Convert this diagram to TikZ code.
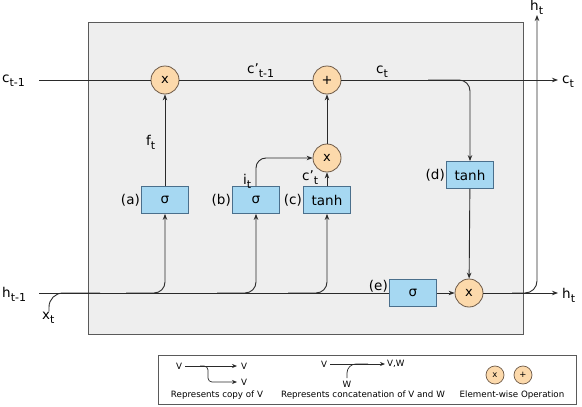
\documentclass[tikz,border=0pt]{standalone}
\usepackage{fontspec}
\setmainfont{DejaVu Sans}
\usetikzlibrary{arrows.meta}
\definecolor{cellbg}{HTML}{EEEEEE}
\definecolor{cellbd}{HTML}{5A5A5A}
\definecolor{actfill}{HTML}{A6D8F2}
\definecolor{actbd}{HTML}{4A6F8C}
\definecolor{opfill}{HTML}{FCD9AB}
\definecolor{opbd}{HTML}{6E5A48}
\definecolor{ln}{HTML}{2A2A2A}
\newcommand{\lsub}[1]{\raisebox{-0.55ex}{\fontsize{11}{11}\selectfont #1}}
\newcommand{\apos}{\symbol{"27}}
\tikzset{
  lbl/.style={font=\fontsize{13.5}{14}\selectfont, inner sep=0pt},
  lgd/.style={font=\fontsize{8.7}{9}\selectfont, inner sep=0pt},
  act/.style={draw=actbd, fill=actfill, line width=0.8pt, minimum width=47pt, minimum height=27pt, inner sep=0pt, font=\fontsize{13.5}{14}\selectfont},
  gate/.style={circle, draw=opbd, fill=opfill, line width=0.8pt, minimum size=28pt, inner sep=0pt, font=\fontsize{13}{14}\selectfont},
  sgate/.style={circle, draw=opbd, fill=opfill, line width=0.7pt, minimum size=18pt, inner sep=0pt, font=\fontsize{8.5}{9}\selectfont},
  wire/.style={draw=ln, line width=0.9pt},
  arr/.style={wire, -{Stealth[length=6pt,width=4.5pt]}},
  sarr/.style={draw=ln, line width=0.7pt, -{Stealth[length=5pt,width=4pt]}},
}
\begin{document}
\begin{tikzpicture}[x=1pt,y=-1pt]
\useasboundingbox (0,0) rectangle (582,407);
% cell background
\node[fill=cellbg, draw=cellbd, line width=1pt, minimum width=435pt, minimum height=312pt, inner sep=0pt] (cell) at (305.5,178) {};

% operators
\node[gate] (fx) at (165,80) {x};
\node[gate] (add) at (327,80) {+};
\node[gate] (ix) at (327,158) {x};
\node[gate] (ox) at (469,293) {x};
% activations
\node[act] (a) at (165,200) {σ};
\node[act] (b) at (256,200) {σ};
\node[act] (c) at (327,200) {tanh};
\node[act] (d) at (470,175) {tanh};
\node[act] (e) at (413,293) {σ};

% coordinates
\coordinate (cin) at (39,80);
\coordinate (cout) at (558,80);
\coordinate (hin) at (39,293);
\coordinate (hout) at (558,293);
\coordinate (htop) at (537,15);
\coordinate (xin) at (49,311);
\coordinate (xj) at (100,293);
\coordinate (cbr) at (428,80);
\coordinate (hbr) at (512,293);
\coordinate (bra) at (126,293);
\coordinate (brb) at (217,293);
\coordinate (brc) at (288,293);

% cell state line
\draw[wire] (cin) -- (fx);
\draw[wire] (fx) -- (add);
\draw[arr] (add) -- (cout);
\draw[arr, rounded corners=11pt] (cbr) -| (d.north);

% hidden line
\draw[wire] (hin) -- (e);
\draw[arr] (e) -- (ox);
\draw[arr] (ox) -- (hout);
\draw[arr, rounded corners=12pt] (hbr) -| (htop);
\draw[wire, rounded corners=14pt] (xin) |- (xj);

% branches to gates
\draw[arr, rounded corners=11pt] (bra) -| (a.south);
\draw[arr, rounded corners=11pt] (brb) -| (b.south);
\draw[arr, rounded corners=11pt] (brc) -| (c.south);

% gate outputs
\draw[arr] (a) -- (fx);
\draw[arr, rounded corners=10pt] (b.north) |- (ix.west);
\draw[arr] (c) -- (ix);
\draw[arr] (ix) -- (add);
\draw[arr] (d) -- (ox);

% labels
\node[lbl, anchor=base west] (lcin) at (2,82) {c\lsub{t-1}};
\node[lbl, anchor=base west] (lhin) at (2,297) {h\lsub{t-1}};
\node[lbl, anchor=base west] (lxt) at (42,319) {x\lsub{t}};
\node[lbl, anchor=base west] (lcout) at (562,83) {c\lsub{t}};
\node[lbl, anchor=base west] (lhout) at (562,298) {h\lsub{t}};
\node[lbl, anchor=base west] (lhtop) at (530,10) {h\lsub{t}};
\node[lbl, anchor=base west] (lft) at (146,145) {f\lsub{t}};
\node[lbl, anchor=base west] (lcp) at (247,73) {c\apos\lsub{t-1}};
\node[lbl, anchor=base west] (lct) at (376,73) {c\lsub{t}};
\node[lbl, anchor=base west] (lit) at (243,184) {i\lsub{t}};
\node[lbl, anchor=base west] (lcpt) at (302,180) {c\apos\lsub{t}};
\node[lbl, anchor=east] (la) at (140,200) {(a)};
\node[lbl, anchor=east] (lb) at (231,200) {(b)};
\node[lbl, anchor=east] (lc) at (302,200) {(c)};
\node[lbl, anchor=east] (ld) at (445,175) {(d)};
\node[lbl, anchor=east] (le) at (388,286) {(e)};

% legend
\node[draw=cellbd, line width=0.8pt, minimum width=418pt, minimum height=49pt, inner sep=0pt] (legend) at (367,379.5) {};
% copy
\node[lgd] (v1) at (179,366) {V};
\node[lgd] (v2) at (244,366) {V};
\node[lgd] (v3) at (244,382) {V};
\coordinate (v1e) at (185,366);
\coordinate (v2w) at (237,366);
\coordinate (cpb) at (200,366);
\coordinate (v3w) at (237,382);
\draw[sarr] (v1e) -- (v2w);
\draw[sarr, rounded corners=4pt] (cpb) -| (208,382) -- (v3w);
\node[lgd] (t1) at (217,395) {Represents copy of V};
% concat
\node[lgd] (cv) at (324,364) {V};
\node[lgd, anchor=west] (cvw) at (387,364) {V,W};
\node[lgd] (cw) at (347,384) {W};
\coordinate (cve) at (330,364);
\coordinate (cvwe) at (385,364);
\coordinate (cwn) at (347,378);
\coordinate (cwj) at (368,364);
\draw[sarr] (cve) -- (cvwe);
\draw[draw=ln, line width=0.7pt, rounded corners=9pt] (cwn) |- (cwj);
\node[lgd] (t2) at (363,395) {Represents concatenation of V and W};
% element-wise
\node[sgate] (lx) at (495,375) {x};
\node[sgate] (lp) at (523,375) {+};
\node[lgd] (t3) at (512,395) {Element-wise Operation};
\end{tikzpicture}
\end{document}
